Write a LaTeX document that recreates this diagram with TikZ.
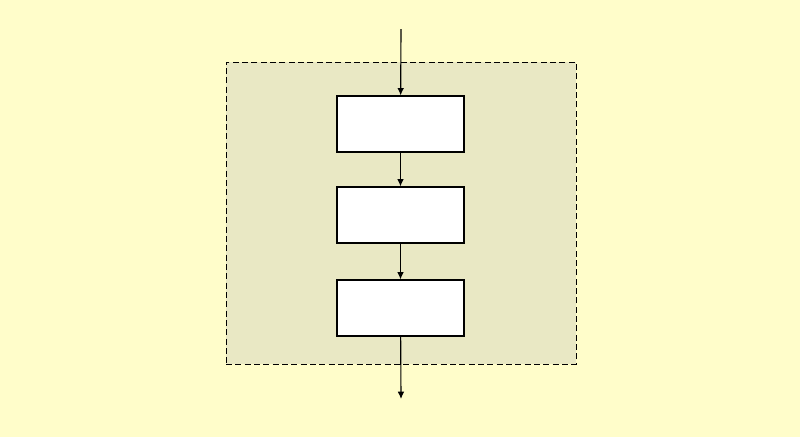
\documentclass[tikz,border=0pt]{standalone}
\usepackage{tikz}
\usetikzlibrary{backgrounds,fit,arrows.meta}

\begin{document}
\begin{tikzpicture}[x=0.75pt,y=-0.75pt]
        %
        % `block' is used for the three white boxes.
        % `flow' is used for the arrows between them.
        % `surround' is used for the dashed background box.
        \tikzstyle{block} = [draw,fill=white,line width=0.9pt,minimum width=95.25pt,minimum height=42pt,inner sep=0pt]
        \tikzstyle{flow} = [-{Latex[length=5.5pt,width=5pt]},line width=0.85pt]
        \tikzstyle{surround} = [fill=regionfill,draw=black,dash pattern=on 4.5pt off 2.5pt,line width=0.65pt,inner sep=0pt]
        \definecolor{paper}{RGB}{255,253,202}
        \definecolor{regionfill}{RGB}{233,232,196}
        %
        \useasboundingbox (0,0) rectangle (800,437);
        %
        % Ends
        \coordinate (in) at (401,29);
        \coordinate (out) at (401,399);
        \coordinate (nw) at (226,62);
        \coordinate (se) at (576,364);
        %
        % Boxes
        \node[block] (b1) at (400.5,124) {};
        \node[block] (b2) at (400.5,215) {};
        \node[block] (b3) at (400.5,308) {};
        %
        % Arrows
        \draw[flow] (in) -- (b1);
        \draw[flow] (b1) -- (b2);
        \draw[flow] (b2) -- (b3);
        \draw[flow] (b3) -- (out);
        %
        % Page and Background Box
        \begin{pgfonlayer}{background}
        \fill[paper] (0,0) rectangle (800,437);
        \node[surround] (region) [fit = (nw) (se)] {};
        \end{pgfonlayer}
        %
\end{tikzpicture}
\end{document}
